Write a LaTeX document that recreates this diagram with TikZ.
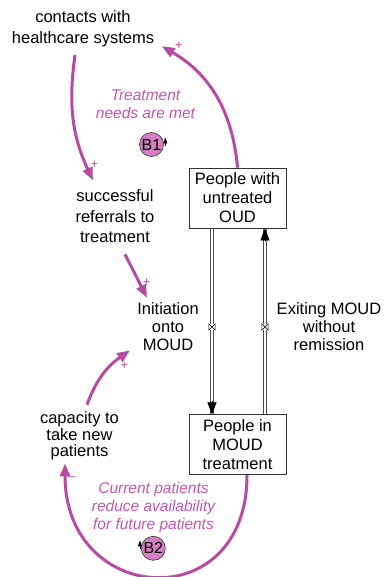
\documentclass[tikz,border=0pt]{standalone}
\usepackage{fontspec}
\setmainfont{Liberation Sans}
\usetikzlibrary{arrows.meta, positioning}
\definecolor{loopMagenta}{RGB}{184, 74, 164}
\definecolor{noteMagenta}{RGB}{196, 86, 178}
\definecolor{badgePink}{RGB}{212, 128, 196}
\tikzset{
    % Variable & Stock Styles
    auxVar/.style={align=center, inner sep=3pt, font=\fontsize{16.5}{19}\selectfont},
    stock/.style={
        rectangle,
        draw=black!80,
        line width=0.8pt,
        minimum width=97pt,
        minimum height=60pt,
        inner sep=0pt,
        align=center,
        font=\fontsize{16.5}{19}\selectfont
    },
    % Loop Styles
    loopNote/.style={align=center, text=noteMagenta, font=\fontsize{15.5}{18}\selectfont\itshape},
    loopBadge/.style={circle, draw=black!80, line width=0.6pt, fill=badgePink, minimum size=24pt, inner sep=0pt, font=\fontsize{16}{16}\selectfont},
    loopTip/.style={-{Triangle[length=6pt, width=4pt]}, line width=0.5pt, draw=black},
    polarity/.style={text=loopMagenta, inner sep=0pt, font=\fontsize{13}{13}\selectfont},
    % Link & Flow Styles
    causalLink/.style={-{Triangle[length=13pt, width=10pt]}, line width=3pt, draw=loopMagenta},
    pipeLine/.style={draw=black!70, line width=0.7pt},
    pipeTip/.style={-{Triangle[length=12pt, width=9pt]}, line width=0.6pt, draw=black},
    valveBox/.style={rectangle, fill=white, minimum size=6pt, inner sep=0pt}
}

\begin{document}
\begin{tikzpicture}[x=1pt, y=1pt]
    \useasboundingbox (0,0) rectangle (384,-577);

    % --- VARIABLES ---
    \node (contacts) [auxVar, font=\fontsize{16.5}{20.7}\selectfont] at (83,-28.8) {contacts with\\healthcare systems};
    \node (referrals) [auxVar, font=\fontsize{16.5}{20.5}\selectfont] at (115,-216.2) {successful\\referrals to\\treatment};
    \node (capacity) [auxVar, font=\fontsize{16.5}{16.7}\selectfont] at (79.5,-435.8) {capacity to\\take new\\patients};

    % --- STOCKS ---
    \node (untreated) [stock] at (237.5,-198) {People with\\untreated\\OUD};
    \node (moud) [stock, below=186pt of untreated] {People in\\MOUD\\treatment};

    % --- FLOWS (two thin rails each) ---
    \draw [pipeLine] ([xshift=-27pt]untreated.south) -- ([xshift=-27pt]moud.north)
                     ([xshift=-24pt]untreated.south) -- ([xshift=-24pt]moud.north);
    \draw [pipeTip] ([xshift=-25.5pt, yshift=13pt]moud.north) -- ([xshift=-25.5pt]moud.north);
    \draw [pipeLine] ([xshift=26pt]moud.north) -- ([xshift=26pt]untreated.south)
                     ([xshift=29pt]moud.north) -- ([xshift=29pt]untreated.south);
    \draw [pipeTip] ([xshift=27.5pt, yshift=-13pt]untreated.south) -- ([xshift=27.5pt]untreated.south);

    \node (valveIn) [valveBox] at (212,-327) {};
    \node (valveOut) [valveBox] at (265,-327) {};
    \foreach \v in {valveIn, valveOut}
        \draw [line width=0.5pt] (\v.north west) -- (\v.south west) -- (\v.north east) -- (\v.south east) -- cycle;

    \node (initiation) [auxVar, font=\fontsize{16.5}{18.3}\selectfont] at (168,-326.4) {Initiation\\onto\\MOUD};
    \node (exiting) [auxVar, font=\fontsize{16.5}{18.3}\selectfont] at (329,-326.5) {Exiting MOUD\\without\\remission};

    % --- LOOPS ---
    \node (noteB1) [loopNote] at (145.5,-104.6) {Treatment\\needs are met};
    \node (B1) [loopBadge] at (151.5,-144.5) {B1};
    \draw [loopTip] ([shift={(1.5pt,-2pt)}]B1.east) -- ([shift={(1.5pt,7pt)}]B1.east);

    \node (noteB2) [loopNote] at (153.5,-507.2) {Current patients\\reduce availability\\for future patients};
    \node (B2) [loopBadge] at (153.3,-548.3) {B2};
    \draw [loopTip] ([shift={(-1pt,-1pt)}]B2.west) -- ([shift={(-1pt,8pt)}]B2.west);

    % --- Causal Links ---
    \draw [causalLink] ([shift={(-8pt,-5pt)}]contacts.south) to[out=262, in=115] ([shift={(-22pt,6pt)}]referrals.north);
    \draw [causalLink] (untreated.north) to[out=95, in=-30] ([shift={(4.5pt,3.8pt)}]contacts.south east);
    \draw [causalLink] ([shift={(10pt,-8.3pt)}]referrals.south) -- ([shift={(-21pt,1pt)}]initiation.north);
    \draw [causalLink] ([shift={(7.5pt,3.5pt)}]capacity.north) to[out=70, in=215] ([shift={(-4pt,3.7pt)}]initiation.south west);
    \draw [causalLink] ([xshift=9.5pt]moud.south) to[out=-90, in=-90, looseness=2] ([xshift=-14.5pt]capacity.south);

    % --- Polarities ---
    \node (signA) [polarity] at (94.3,-164.3) {+};
    \node (signB) [polarity] at (179,-45.7) {+};
    \node (signC) [polarity] at (146.7,-282.7) {+};
    \node (signD) [polarity] at (124.3,-365.7) {+};
    \node (signE) [polarity] at (71.7,-479) {--};

\end{tikzpicture}
\end{document}
